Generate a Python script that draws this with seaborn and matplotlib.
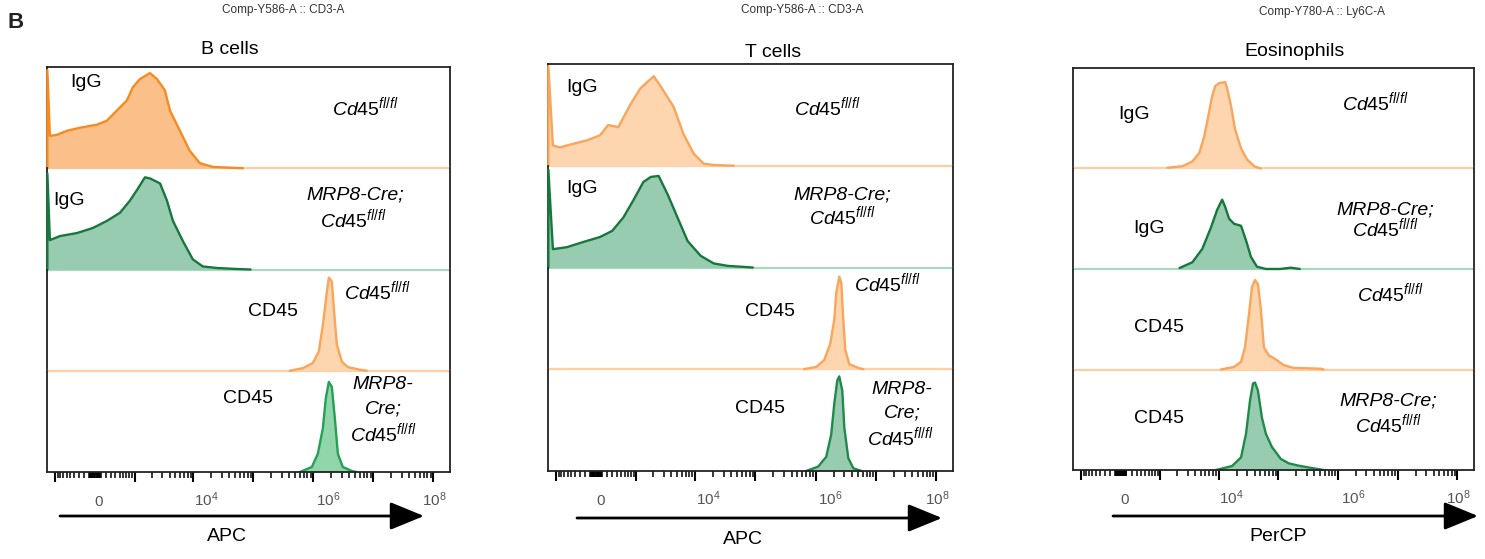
import numpy as np
import matplotlib
matplotlib.use("Agg")
import matplotlib.pyplot as plt
import seaborn as sns
from matplotlib.patches import FancyArrowPatch

# ---- histogram outlines (x = fluorescence, y = % of mode) ----
# B cells
b_igg_ctrl_x = [-1380, -1380, -1245, -930, -591, -278, 35, 218, 434, 713, 930, 1245, 1860, 2466, 3340, 4064, 5970, 8750, 12850, 21180, 67000]
b_igg_ctrl_y = [0, 97, 32, 33, 37, 40, 43, 47, 57, 67, 80, 88, 94, 88, 77, 57, 37, 17, 5, 1.3, 0]
b_igg_cre_x = [-1380, -1380, -1245, -817, -340, -35, 218, 510, 817, 1120, 1525, 1860, 2768, 3620, 4560, 6700, 9800, 14400, 24700, 53200, 90000]
b_igg_cre_y = [0, 95, 29, 33, 36, 41, 48, 56, 68, 79, 91, 90, 85, 68, 48, 28, 10, 3, 1.5, 0.5, 0]
b_cd45_ctrl_x = [406000, 670000, 982000, 1.236e6, 1.442e6, 1.683e6, 1.815e6, 2.037e6, 2.198e6, 2.467e6, 2.992e6, 3.767e6, 5.97e6, 7.8e6]
b_cd45_ctrl_y = [0, 2.6, 7.6, 19, 45, 78, 92, 88, 62, 26, 9, 3.6, 1, 0]
b_cd45_cre_x = [600000, 946000, 1.19e6, 1.442e6, 1.618e6, 1.815e6, 2.037e6, 2.286e6, 2.565e6, 3.105e6, 4.387e6, 5.32e6]
b_cd45_cre_y = [0, 5, 18, 43, 73, 89, 84, 53, 18, 5, 1, 0]

# T cells
t_igg_ctrl_x = [-1380, -1380, -1148, -855, -458, -161, 70, 218, 434, 781, 1195, 2037, 2670, 4385, 6440, 9460, 13900, 20400, 43900]
t_igg_ctrl_y = [0, 98, 20, 18, 21.5, 25, 30, 40, 38, 60, 76, 88, 78, 58, 31, 12, 2, 0.7, 0]
t_igg_cre_x = [-1380, -1380, -1148, -620, -238, 70, 299, 563, 890, 1350, 1815, 2466, 3484, 5117, 7516, 12370, 20400, 34800, 91000]
t_igg_cre_y = [0, 96, 18, 20, 25, 30, 36, 49, 66, 84, 89, 90, 72, 49, 26, 11.5, 4, 1.6, 0]
t_cd45_ctrl_x = [644000, 1.02e6, 1.387e6, 1.746e6, 2.037e6, 2.198e6, 2.467e6, 2.667e6, 2.877e6, 3.105e6, 3.622e6, 5.12e6, 6.2e6]
t_cd45_ctrl_y = [0, 2.3, 9, 25, 48.5, 75, 91, 85, 48.5, 19, 5, 1.3, 0]
t_cd45_cre_x = [695000, 1.10e6, 1.5e6, 1.815e6, 2.037e6, 2.286e6, 2.467e6, 2.768e6, 2.992e6, 3.484e6, 4.227e6, 5.74e6]
t_cd45_cre_y = [0, 4.3, 14, 36, 66, 89, 93, 79, 42.5, 12.6, 2.7, 0]

# Eosinophils
eos_igg_ctrl_x = [1350, 2466, 3620, 4740, 5740, 6700, 7800, 8750, 10200, 12850, 13870, 16180, 18880, 23770, 29900, 40640, 51200]
eos_igg_ctrl_y = [0.7, 2.3, 7, 15.5, 32, 52, 72, 82, 85, 86, 80, 62, 39, 20, 9, 1.7, 0]
eos_igg_cre_x = [2198, 3620, 5320, 7516, 9460, 11460, 12850, 15000, 18160, 23770, 28770, 34850, 43900, 62000, 106600, 162000, 229000]
eos_igg_cre_y = [1, 6.7, 20, 42, 59, 69, 62, 50, 45, 43, 28.5, 12, 2.3, 0, 0, 1.3, 0]
eos_cd45_ctrl_x = [11010, 18160, 23770, 27670, 32300, 36240, 40640, 45600, 51200, 57400, 69500, 91000, 123700, 181600, 532000, 574000]
eos_cd45_ctrl_y = [0, 2.6, 7.6, 22, 55, 82, 89, 85, 59, 22, 14, 10, 4.3, 1.6, 0.7, 0]
eos_cd45_cre_x = [9100, 16830, 23770, 28770, 33570, 37660, 40640, 45600, 53200, 62000, 78000, 110200, 150000, 220000, 362000, 574000]
eos_cd45_cre_y = [0, 4, 12.6, 36, 69, 86, 87, 79, 52, 36, 23, 11, 6.6, 4.3, 2, 0]

tick_values = [0, 1e4, 1e6, 1e8]
tick_labels = ["0", r"$10^{4}$", r"$10^{6}$", r"$10^{8}$"]

sns.set_theme(style="white")
plt.rcParams["font.family"] = ["Liberation Sans", "DejaVu Sans"]
plt.rcParams["mathtext.fontset"] = "custom"
plt.rcParams["mathtext.rm"] = "Liberation Sans"
plt.rcParams["mathtext.it"] = "Liberation Sans:italic"

W, H = 1485, 559
fig = plt.figure(figsize=(W / 100, H / 100), dpi=100)


def ftext(x, y, s, **kw):
    # x = centre, y = baseline, both in picture pixels
    kw.setdefault("ha", "center")
    kw.setdefault("va", "baseline")
    fig.text(x / W, 1 - y / H, s, **kw)


# biexponential-like display (arcsinh)
C = 457.0
fwd = lambda v: np.arcsinh(np.asarray(v, dtype=float) / C)
inv = lambda v: C * np.sinh(np.asarray(v, dtype=float))
XMIN, XMAX = -1400, 1.9e8

OR_LINE_D, OR_FILL_D = "#F68B1F", "#FBC08A"
OR_LINE, OR_FILL, OR_BASE = "#F9A55A", "#FDD5AF", "#FDCFA5"
GR_LINE_D, GR_FILL = "#18773F", "#98CCB0"
GR_LINE, GR_FILL_L, GR_BASE = "#25A055", "#90D6AA", "#A8D9BF"
GR_LINE_M = "#1F8A4A"

CTRL = r"$\mathit{Cd45}^{\mathit{fl/fl}}$"

panels = [
    dict(box=(47, 67, 450, 472), title="B cells", title_xy=(230, 54),
         comp="Comp-Y586-A :: CD3-A", comp_xy=(283, 13),
         xlabel="APC", xlabel_xy=(227, 541), arrow=(60, 424, 516),
         rows=[(b_igg_ctrl_x, b_igg_ctrl_y, OR_LINE_D, OR_FILL_D, OR_BASE),
               (b_igg_cre_x, b_igg_cre_y, GR_LINE_D, GR_FILL, GR_BASE),
               (b_cd45_ctrl_x, b_cd45_ctrl_y, OR_LINE, OR_FILL, OR_BASE),
               (b_cd45_cre_x, b_cd45_cre_y, GR_LINE, GR_FILL_L, GR_BASE)],
         labels=[(86, 87, "IgG", "normal"), (365, 115, CTRL, "normal"),
                 (69, 205, "IgG", "normal"), (355, 199, "MRP8-Cre;", "italic"), (353, 227, CTRL, "normal"),
                 (273, 316, "CD45", "normal"), (377, 299, CTRL, "normal"),
                 (248, 403, "CD45", "normal"), (383, 389, "MRP8-", "italic"), (383, 413, "Cre;", "italic"),
                 (383, 441, CTRL, "normal")]),
    dict(box=(548, 64, 953, 471), title="T cells", title_xy=(773, 57),
         comp="Comp-Y586-A :: CD3-A", comp_xy=(802, 13),
         xlabel="APC", xlabel_xy=(743, 544), arrow=(577, 942, 518),
         rows=[(t_igg_ctrl_x, t_igg_ctrl_y, OR_LINE, OR_FILL, OR_BASE),
               (t_igg_cre_x, t_igg_cre_y, GR_LINE_D, GR_FILL, GR_BASE),
               (t_cd45_ctrl_x, t_cd45_ctrl_y, OR_LINE, OR_FILL, OR_BASE),
               (t_cd45_cre_x, t_cd45_cre_y, GR_LINE_M, GR_FILL, GR_BASE)],
         labels=[(582, 92, "IgG", "normal"), (827, 115, CTRL, "normal"),
                 (582, 193, "IgG", "normal"), (842, 199, "MRP8-Cre;", "italic"), (842, 224, CTRL, "normal"),
                 (770, 316, "CD45", "normal"), (887, 291, CTRL, "normal"),
                 (760, 413, "CD45", "normal"), (902, 394, "MRP8-", "italic"), (902, 417, "Cre;", "italic"),
                 (900, 445, CTRL, "normal")]),
    dict(box=(1073, 68, 1474, 470), title="Eosinophils", title_xy=(1295, 56),
         comp="Comp-Y780-A :: Ly6C-A", comp_xy=(1322, 15),
         xlabel="PerCP", xlabel_xy=(1278, 541), arrow=(1113, 1478, 516),
         rows=[(eos_igg_ctrl_x, eos_igg_ctrl_y, OR_LINE, OR_FILL, OR_BASE),
               (eos_igg_cre_x, eos_igg_cre_y, GR_LINE_D, GR_FILL, GR_BASE),
               (eos_cd45_ctrl_x, eos_cd45_ctrl_y, OR_LINE, OR_FILL, OR_BASE),
               (eos_cd45_cre_x, eos_cd45_cre_y, GR_LINE_M, GR_FILL, GR_BASE)],
         labels=[(1134, 119, "IgG", "normal"), (1375, 110, CTRL, "normal"),
                 (1149, 233, "IgG", "normal"), (1385, 214, "MRP8-Cre;", "italic"), (1385, 236, CTRL, "normal"),
                 (1159, 332, "CD45", "normal"), (1390, 301, CTRL, "normal"),
                 (1159, 423, "CD45", "normal"), (1388, 405, "MRP8-Cre;", "italic"), (1388, 432, CTRL, "normal")]),
]

major = [-1e3, 1e3, 1e4, 1e5, 1e6, 1e7, 1e8]
minor = [s * m * 10 ** k for s in (-1, 1) for k in (1, 2) for m in range(1, 10)]
minor += [m * 10 ** k for k in range(3, 8) for m in range(2, 10)]
label_dx = [4, 13, 15, 1]  # px nudges of the tick labels

for p in panels:
    l, t, r, b = p["box"]
    rh = (b - t) / 4
    for i, (xs, ys, lc, fc, bc) in enumerate(p["rows"]):
        top = t + i * rh
        ax = fig.add_axes([l / W, 1 - (top + rh) / H, (r - l) / W, rh / H])
        ax.patch.set_visible(False)
        ax.set_xscale("function", functions=(fwd, inv))
        ax.set_xlim(XMIN, XMAX)
        ax.set_ylim(0, 100)
        if i < 3:
            ax.axhline(0, color=bc, lw=1.6, clip_on=False, zorder=1)
        ax.fill_between(xs, 0, ys, color=fc, lw=0, zorder=2)
        sns.lineplot(x=xs, y=ys, ax=ax, color=lc, lw=1.7, sort=False,
                     estimator=None, clip_on=False, zorder=3)
        ax.set_yticks([])
        ax.set_xlabel("")
        ax.set_ylabel("")
        for side, sp in ax.spines.items():
            sp.set_color("#222222")
            sp.set_linewidth(1.3)
            sp.set_zorder(0.5 if side != "bottom" else 4)
        ax.spines["top"].set_visible(i == 0)
        ax.spines["bottom"].set_visible(i == 3)
        if i < 3:
            ax.tick_params(axis="x", which="both", bottom=False, labelbottom=False)
            ax.set_xticks([])
            ax.set_xticks([], minor=True)
        else:
            ax.set_xticks(major)
            ax.set_xticks(minor, minor=True)
            ax.set_xticklabels([])
            ax.set_xticklabels([], minor=True)
            ax.tick_params(axis="x", which="major", bottom=True, direction="out",
                           length=7.5, width=1.5, color="black")
            ax.tick_params(axis="x", which="minor", bottom=True, direction="out",
                           length=4.2, width=1.1, color="black")
            for v, s, dx in zip(tick_values, tick_labels, label_dx):
                ax.annotate(s, xy=(v, 0), xycoords=("data", "axes fraction"),
                            xytext=(dx * 0.72, -34 * 0.72), textcoords="offset points",
                            ha="center", va="baseline", fontsize=11, color="#555555",
                            annotation_clip=False)

    ftext(*p["comp_xy"], p["comp"], fontsize=8.5, color="#333333")
    ftext(*p["title_xy"], p["title"], fontsize=14, color="black")
    for x, y, s, st in p["labels"]:
        ftext(x, y, s, fontsize=14, style=st, color="black")
    ftext(*p["xlabel_xy"], p["xlabel"], fontsize=14, color="black")
    x0, x1, ya = p["arrow"]
    arr = FancyArrowPatch((x0 / W, 1 - ya / H), (x1 / W, 1 - ya / H),
                          transform=fig.transFigure,
                          arrowstyle="-|>,head_length=2.1,head_width=0.86",
                          mutation_scale=10, lw=2, color="black",
                          shrinkA=0, shrinkB=0)
    fig.add_artist(arr)

ftext(16, 28, "B", fontsize=16, fontweight="bold", color="#222222")

fig.savefig("out.png", dpi=100)
